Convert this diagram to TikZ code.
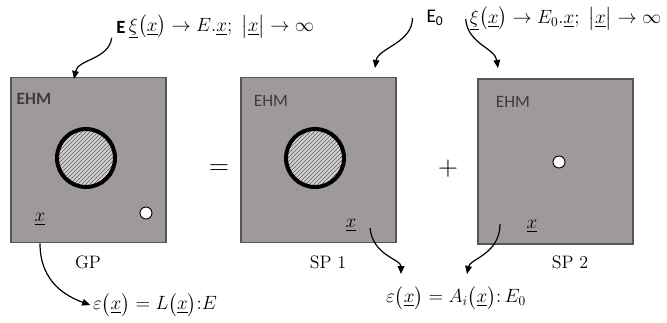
\documentclass[tikz,border=0pt]{standalone}
\usepackage{amsmath}
\usepackage{fontspec}
\setsansfont{Carlito}
\usetikzlibrary{arrows.meta,patterns,positioning}

\definecolor{panelfill}{RGB}{160,153,153}
\definecolor{panelline}{RGB}{88,84,84}
\definecolor{ehmtext}{RGB}{62,60,60}

\tikzset{
  panel/.style={draw=panelline, fill=panelfill, line width=1.1pt, minimum width=116pt, minimum height=124pt, inner sep=0pt},
  inclusion/.style={circle, draw=black, line width=3pt, minimum size=43.5pt, inner sep=0pt, preaction={fill=gray!35}, pattern=north east lines, pattern color=gray!70!black},
  void/.style={circle, draw=black, line width=0.7pt, fill=white, minimum size=9pt, inner sep=0pt},
  ehm/.style={font=\fontsize{13}{15}\sffamily, text=ehmtext},
  formula/.style={font=\fontsize{13.7}{16}\selectfont, inner sep=2pt},
  link/.style={-{Triangle[length=6pt,width=5pt]}, line width=0.9pt},
}

\begin{document}
\begin{tikzpicture}[x=0.75pt,y=-0.75pt,font=\fontsize{13.5}{16}\selectfont]
\useasboundingbox (0,0) rectangle (667,322);

\node[panel] (gp) at (88.5,160) {};
\node[panel] (sp1) at (318.5,160) {};
\node[panel] (sp2) at (555.5,161.5) {};

\node[ehm, font=\fontsize{13}{15}\sffamily\bfseries] (ehmgp) at (34,99) {EHM};
\node[ehm] (ehmsp1) at (271,101) {EHM};
\node[ehm] (ehmsp2) at (513,102) {EHM};

\node[inclusion] (incgp) at (86,158) {};
\node[inclusion] (incsp1) at (315,158) {};
\node[void] (voidgp) at (146,213) {};
\node[void] (voidsp2) at (559,162) {};

\node[formula] (xgp) at (40,219) {$\underline{x}$};
\node[formula] (xsp1) at (351,225) {$\underline{x}$};
\node[formula] (xsp2) at (532,226) {$\underline{x}$};

\node[font=\fontsize{20}{22}\selectfont] (eq) at (219,170) {$=$};
\node[font=\fontsize{20}{22}\selectfont] (plus) at (448,169) {$+$};

\node (lblgp) at (88,262) {GP};
\node (lblsp1) at (328,262) {SP 1};
\node (lblsp2) at (570,262) {SP 2};

\node[font=\fontsize{14}{16}\sffamily\bfseries] (lblE) at (121,27) {E};
\node[formula, anchor=west] (topl) at (126,27) {$\underline{\xi}\bigl(\underline{x}\bigr)\to E.\underline{x};\ \bigl|\underline{x}\bigr|\to\infty$};
\node[font=\fontsize{14.5}{16}\sffamily] (lblEo) at (435,18) {E\textsubscript{0}};
\node[formula, anchor=west] (topr) at (467,19) {$\underline{\xi}\bigl(\underline{x}\bigr)\to E_0.\underline{x};\ \bigl|\underline{x}\bigr|\to\infty$};

\node[formula] (epsl) at (155,305) {$\varepsilon\bigl(\underline{x}\bigr)=L\bigl(\underline{x}\bigr){:}E$};
\node[formula] (epsr) at (456,298) {$\varepsilon\bigl(\underline{x}\bigr)=A_i\bigl(\underline{x}\bigr){:}\,E_0$};

\coordinate (gpin) at (74,79);
\coordinate (sp1in) at (375,68);
\coordinate (sp2in) at (498,68);
\coordinate (sp1out) at (370,228);
\coordinate (sp2out) at (500,224);
\coordinate (epsrin1) at (401,274);
\coordinate (epsrin2) at (467,274);

\draw[link] (lblE.south west) .. controls +(-3,22) and +(4,-20) .. (gpin);
\draw[link] ([xshift=-7pt]lblEo.west) .. controls +(0,25) and +(3,-20) .. (sp1in);
\draw[link] ([xshift=-1pt]topr.west) .. controls +(2,25) and +(-3,-20) .. (sp2in);
\draw[link] (xgp |- gp.south) .. controls +(0,40) and +(-22,-8) .. (epsl.west);
\draw[link] (sp1out) .. controls +(3,28) and +(0,-15) .. (epsrin1);
\draw[link] (sp2out) .. controls +(0,30) and +(3,-15) .. (epsrin2);
\end{tikzpicture}
\end{document}
